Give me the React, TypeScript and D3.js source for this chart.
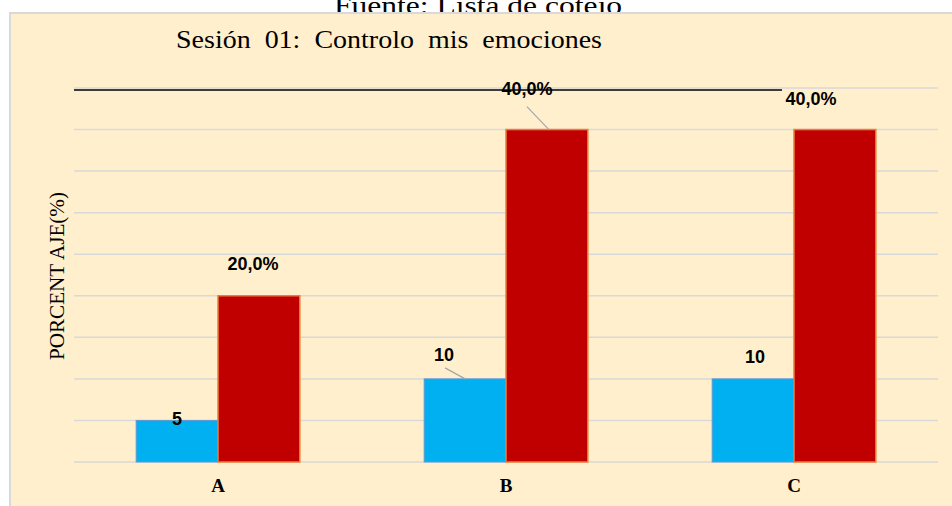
import { useEffect, useRef } from "react";
import * as d3 from "d3";

// chart data
const categories = ["A", "B", "C"];
const seriesNames = ["Cantidad", "Porcentaje"];
const countValues = [5, 10, 10];
const percentValues = [20, 40, 40];
const countLabels = ["5", "10", "10"];
const percentLabels = ["20,0%", "40,0%", "40,0%"];
const yTicks = [0, 5, 10, 15, 20, 25, 30, 35, 40, 45];

// manual label nudges (dx, dy from bar top-center), like the hand-placed Excel labels
const countOffsets: [number, number][] = [[0, 5], [-21, -18], [2, -16]];
const percentOffsets: [number, number][] = [[-6, -26], [-20, -35], [-24, -25]];
const leaderLines = [false, true, false];

function App() {
  const svgRef = useRef<SVGSVGElement>(null);

  useEffect(() => {
    if (!svgRef.current) return;
    const svg = d3.select(svgRef.current);
    svg.selectAll("*").remove();

    const width = 952;
    const height = 506;
    const plot = { left: 74, right: 938, top: 88, bottom: 462 };

    svg.attr("width", width).attr("height", height);

    // source note, partly hidden behind the chart area
    svg
      .append("text")
      .attr("x", 478)
      .attr("y", 14)
      .attr("text-anchor", "middle")
      .attr("font-family", "Liberation Serif, serif")
      .attr("font-size", 26)
      .attr("textLength", 288)
      .attr("lengthAdjust", "spacingAndGlyphs")
      .attr("fill", "#000")
      .text("Fuente: Lista de cotejo");

    // chart area
    svg
      .append("rect")
      .attr("x", 10)
      .attr("y", 13)
      .attr("width", width)
      .attr("height", height)
      .attr("fill", "#FFEFCC")
      .attr("stroke", "#D9D9D9")
      .attr("stroke-width", 2);

    svg
      .append("text")
      .attr("x", 176)
      .attr("y", 48)
      .attr("font-family", "Liberation Serif, serif")
      .attr("font-size", 25)
      .attr("textLength", 426)
      .attr("lengthAdjust", "spacingAndGlyphs")
      .style("white-space", "pre")
      .attr("fill", "#000")
      .text("Sesión  01:  Controlo  mis  emociones");

    const x0 = d3
      .scaleBand<string>()
      .domain(categories)
      .range([plot.left, plot.right])
      .padding(0);

    const x1 = d3
      .scaleBand<string>()
      .domain(seriesNames)
      .range([0, x0.bandwidth()])
      .paddingInner(0)
      .paddingOuter(0.76);

    const y = d3
      .scaleLinear()
      .domain([0, 45])
      .range([plot.bottom, plot.top]);

    // gridlines
    svg
      .append("g")
      .selectAll("line")
      .data(yTicks)
      .enter()
      .append("line")
      .attr("x1", plot.left)
      .attr("x2", plot.right)
      .attr("y1", (d) => y(d))
      .attr("y2", (d) => y(d))
      .attr("stroke", "#D9D9D9")
      .attr("stroke-width", 1.5);

    // stray black rule near the top
    svg
      .append("line")
      .attr("x1", plot.left)
      .attr("x2", 782)
      .attr("y1", y(45) + 2)
      .attr("y2", y(45) + 2)
      .attr("stroke", "#000")
      .attr("stroke-width", 1.5);

    // y axis title
    svg
      .append("text")
      .attr("transform", `translate(64,${276}) rotate(-90)`)
      .attr("text-anchor", "middle")
      .attr("font-family", "Liberation Serif, serif")
      .attr("font-size", 21)
      .attr("textLength", 168)
      .attr("lengthAdjust", "spacingAndGlyphs")
      .attr("fill", "#000")
      .text("PORCENT AJE(%)");

    // bars
    const groups = svg
      .append("g")
      .selectAll("g")
      .data(categories)
      .enter()
      .append("g")
      .attr("transform", (d) => `translate(${x0(d)},0)`);

    groups
      .append("rect")
      .attr("x", x1("Cantidad")!)
      .attr("width", x1.bandwidth())
      .attr("y", (_, i) => y(countValues[i]))
      .attr("height", (_, i) => y(0) - y(countValues[i]))
      .attr("fill", "#00B0F0")
      .attr("stroke", "#5B9BD5")
      .attr("stroke-width", 1);

    groups
      .append("rect")
      .attr("x", x1("Porcentaje")!)
      .attr("width", x1.bandwidth())
      .attr("y", (_, i) => y(percentValues[i]))
      .attr("height", (_, i) => y(0) - y(percentValues[i]))
      .attr("fill", "#C00000")
      .attr("stroke", "#ED7D31")
      .attr("stroke-width", 1.5);

    // leader lines
    categories.forEach((c, i) => {
      if (!leaderLines[i]) return;
      const bx = x0(c)! + x1("Cantidad")! + x1.bandwidth() / 2;
      svg
        .append("line")
        .attr("x1", bx - 20)
        .attr("y1", y(countValues[i]) - 11)
        .attr("x2", bx)
        .attr("y2", y(countValues[i]))
        .attr("stroke", "#A6A6A6")
        .attr("stroke-width", 1.2);
      const rx = x0(c)! + x1("Porcentaje")! + x1.bandwidth() / 2;
      svg
        .append("line")
        .attr("x1", rx - 20)
        .attr("y1", y(percentValues[i]) - 23)
        .attr("x2", rx + 2)
        .attr("y2", y(percentValues[i]))
        .attr("stroke", "#A6A6A6")
        .attr("stroke-width", 1.2);
    });

    const labelFont = "Liberation Sans, Arial, sans-serif";

    groups
      .append("text")
      .attr("x", (_, i) => x1("Cantidad")! + x1.bandwidth() / 2 + countOffsets[i][0])
      .attr("y", (_, i) => y(countValues[i]) + countOffsets[i][1])
      .attr("text-anchor", "middle")
      .attr("font-family", labelFont)
      .attr("font-weight", "bold")
      .attr("font-size", 18)
      .attr("fill", "#000")
      .text((_, i) => countLabels[i]);

    groups
      .append("text")
      .attr("x", (_, i) => x1("Porcentaje")! + x1.bandwidth() / 2 + percentOffsets[i][0])
      .attr("y", (_, i) => y(percentValues[i]) + percentOffsets[i][1])
      .attr("text-anchor", "middle")
      .attr("font-family", labelFont)
      .attr("font-weight", "bold")
      .attr("font-size", 18)
      .attr("fill", "#000")
      .text((_, i) => percentLabels[i]);

    // category labels
    svg
      .append("g")
      .selectAll("text")
      .data(categories)
      .enter()
      .append("text")
      .attr("x", (d) => x0(d)! + x0.bandwidth() / 2)
      .attr("y", plot.bottom + 30)
      .attr("text-anchor", "middle")
      .attr("font-family", "Liberation Serif, serif")
      .attr("font-weight", "bold")
      .attr("font-size", 19)
      .attr("fill", "#000")
      .text((d) => d);
  }, []);

  return (
    <svg
      ref={svgRef}
      style={{ position: "absolute", left: 0, top: 0, display: "block" }}
    ></svg>
  );
}

export default App;
